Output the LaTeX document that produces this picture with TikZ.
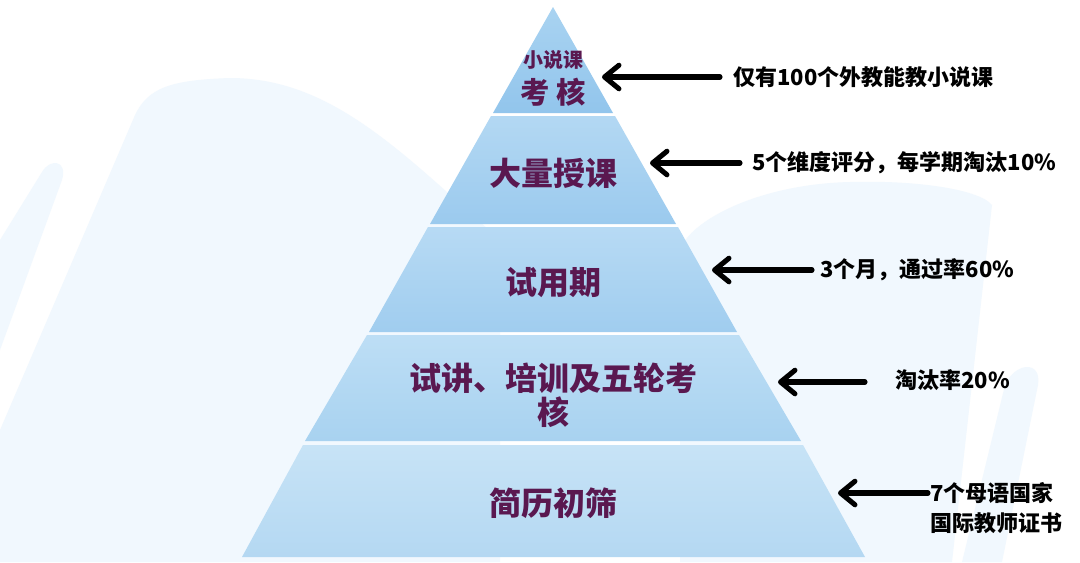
\documentclass[tikz,border=0pt]{standalone}
\usepackage{fontspec}
\setmainfont{Noto Sans CJK SC}
\usepackage{tikz}
\usetikzlibrary{arrows.meta,positioning}
\definecolor{bgblue}{HTML}{F1F8FE}
\definecolor{labpurple}{HTML}{5A1850}
\definecolor{lay1top}{HTML}{A9D3F1}
\definecolor{lay1bot}{HTML}{92C5EC}
\definecolor{lay2top}{HTML}{B3D8F3}
\definecolor{lay2bot}{HTML}{9BCAEE}
\definecolor{lay3top}{HTML}{B7DAF4}
\definecolor{lay3bot}{HTML}{A0CDEF}
\definecolor{lay4top}{HTML}{BDDEF5}
\definecolor{lay4bot}{HTML}{A8D2F0}
\definecolor{lay5top}{HTML}{C7E3F6}
\definecolor{lay5bot}{HTML}{B4D8F2}

\begin{document}
\begin{tikzpicture}[
  x=0.75pt,y=-0.75pt,
  layer/.style={font=\bfseries\fontsize{24}{25.5}\selectfont,text=labpurple,align=center},
  note/.style={font=\bfseries\fontsize{16.5}{22.5}\selectfont,anchor=west,inner sep=0pt,align=left},
  arr/.style={-{Straight Barb[length=3.8mm,width=6.2mm,round]},line width=3.8pt,line cap=round}
]
\useasboundingbox (0,0) rectangle (1080,562);
\fill[white] (0,0) rectangle (1080,562);
% faint background shapes
\fill[bgblue] (0,240) -- (42,172) .. controls (50,158) and (68,160) .. (62,180) -- (0,350) -- cycle;
\fill[bgblue] (0,430) -- (135,115) .. controls (148,88) and (170,80) .. (230,78)
  .. controls (330,78) and (400,150) .. (500,240) -- (500,562) -- (0,562) -- cycle;
\fill[bgblue] (680,250) .. controls (690,220) and (760,184) .. (850,182)
  .. controls (920,180) and (980,190) .. (992,205) -- (952,562) -- (680,562) -- cycle;
\fill[bgblue] (1005,385) .. controls (1015,362) and (1042,360) .. (1038,385) -- (1002,562) -- (962,562) -- cycle;

% pyramid layers
\shade[top color=lay1top,bottom color=lay1bot] (553,7) -- (613,113) -- (493,113) -- cycle;
\shade[top color=lay2top,bottom color=lay2bot] (491,116) -- (615,116) -- (676,224) -- (430,224) -- cycle;
\shade[top color=lay3top,bottom color=lay3bot] (428,227) -- (678,227) -- (737,332) -- (369,332) -- cycle;
\shade[top color=lay4top,bottom color=lay4bot] (367,335) -- (739,335) -- (801,441) -- (305,441) -- cycle;
\shade[top color=lay5top,bottom color=lay5bot] (303,445) -- (803,445) -- (865,557) -- (242,557) -- cycle;

% layer labels
\node[layer,font=\bfseries\fontsize{15}{16}\selectfont] (l1a) at (553,60) {小说课};
\node[layer,font=\bfseries\fontsize{22}{24}\selectfont] (l1b) at (553,92) {考 核};
\node[layer] (l2) at (553,173) {大量授课};
\node[layer] (l3) at (553,283) {试用期};
\node[layer] (l4) at (553,395) {试讲、培训及五轮考\\核};
\node[layer] (l5) at (553,503) {简历初筛};

% arrow tips
\coordinate (t1) at (602,77);
\coordinate (t2) at (650,163);
\coordinate (t3) at (712,270);
\coordinate (t4) at (778,382);
\coordinate (t5) at (838,493);

% notes
\node[note] (n1) at (733,77) {仅有100个外教能教小说课};
\node[note] (n2) at (752,163) {5个维度评分，每学期淘汰10\%};
\node[note] (n3) at (820,270) {3个月，通过率60\%};
\node[note] (n4) at (895,380) {淘汰率20\%};
\node[note] (n5) at (930,508) {7个母语国家\\国际教师证书};

\draw[arr] ([xshift=-9.75pt]n1.west |- t1) -- (t1);
\draw[arr] ([xshift=-9pt]n2.west |- t2) -- (t2);
\draw[arr] ([xshift=-6pt]n3.west |- t3) -- (t3);
\draw[arr] ([xshift=-22.5pt]n4.west |- t4) -- (t4);
\draw[arr] ([xshift=-1.5pt]n5.west |- t5) -- (t5);
\end{tikzpicture}
\end{document}
